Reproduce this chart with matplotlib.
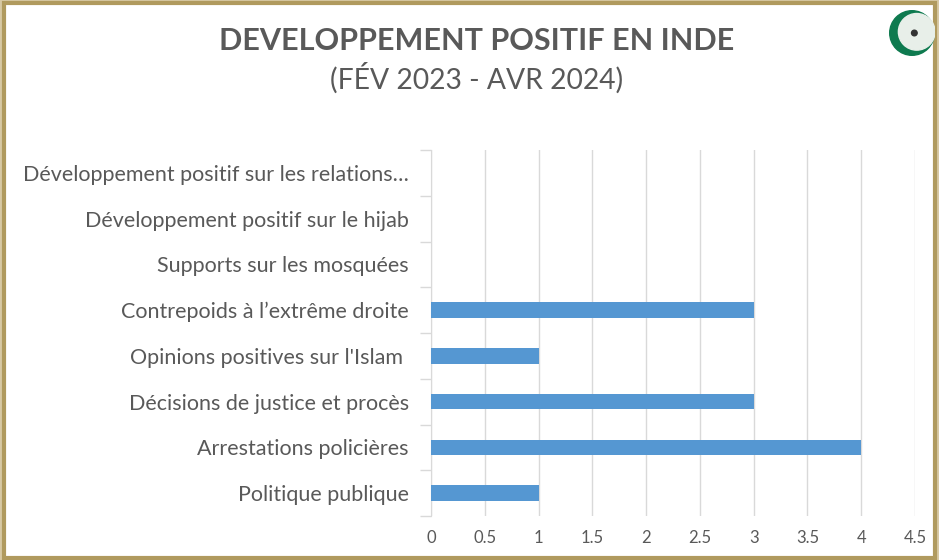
import matplotlib.pyplot as plt
import numpy as np
from matplotlib.patches import Rectangle, Circle

# ==== données ====
categories = [
    "Politique publique",
    "Arrestations policières",
    "Décisions de justice et procès",
    "Opinions positives sur l'Islam ",
    "Contrepoids à l’extrême droite",
    "Supports sur les mosquées",
    "Développement positif sur le hijab",
    "Développement positif sur les relations…",
]
values = [1, 4, 3, 1, 3, 0, 0, 0]
xticks = [0, 0.5, 1, 1.5, 2, 2.5, 3, 3.5, 4, 4.5]
xtick_labels = ["0", "0.5", "1", "1.5", "2", "2.5", "3", "3.5", "4", "4.5"]

title = "DEVELOPPEMENT POSITIF EN INDE"
subtitle = "(FÉV 2023 - AVR 2024)"

text_col = "#595959"
bar_col = "#5597d2"
grid_col = "#d9d9d9"

plt.rcParams["font.family"] = ["Lato", "DejaVu Sans"]

fig = plt.figure(figsize=(9.39, 5.6), dpi=100)
fig.patch.set_facecolor("#d8c9a4")

# cadre doré + fond blanc
fig.patches.append(Rectangle((0.004, 0.004), 0.992, 0.99, transform=fig.transFigure,
                             facecolor="white", edgecolor="#b09a5e", linewidth=3, zorder=-5))

ax = fig.add_axes([431 / 939, 1 - 516 / 560, 484 / 939, 366 / 560])
ax.set_facecolor("none")
y = np.arange(len(categories))
ax.barh(y, values, height=0.34, color=bar_col, zorder=3)

ax.set_xlim(0, 4.5)
ax.set_ylim(-0.5, len(categories) - 0.5)
ax.set_xticks(xticks)
ax.set_xticklabels(xtick_labels)
ax.set_yticks(y)
ax.set_yticklabels(categories)
ax.set_yticks(np.arange(-0.5, len(categories)), minor=True)

ax.tick_params(axis="x", length=0, pad=10, labelsize=12, labelcolor=text_col)
ax.tick_params(axis="y", which="major", length=0, pad=16, labelsize=15.5, labelcolor=text_col)
ax.tick_params(axis="y", which="minor", length=8, color=grid_col, width=1)

ax.grid(axis="x", color=grid_col, linewidth=1, zorder=0)
ax.set_axisbelow(True)
for s in ["top", "right", "bottom"]:
    ax.spines[s].set_visible(False)
ax.spines["left"].set_color(grid_col)

fig.text(0.508, 0.927, title, ha="center", va="center", fontsize=22,
         fontweight="bold", color=text_col)
fig.text(0.508, 0.86, subtitle, ha="center", va="center", fontsize=20.3, color=text_col)

# logo
cx, cy = 912 / 939, 1 - 33 / 560
logo_ax = fig.add_axes([cx - 0.025, cy - 0.042, 0.05, 0.084])
logo_ax.set_xlim(-1, 1)
logo_ax.set_ylim(-1, 1)
logo_ax.set_aspect("equal")
logo_ax.axis("off")
logo_ax.add_patch(Circle((0, 0), 0.95, color="#0e7a4f"))
logo_ax.add_patch(Circle((0.2, 0.05), 0.78, color="#e8efe9"))
logo_ax.add_patch(Circle((0.1, 0.0), 0.12, color="#333333"))

fig.savefig("out.png", dpi=100, facecolor=fig.get_facecolor())
